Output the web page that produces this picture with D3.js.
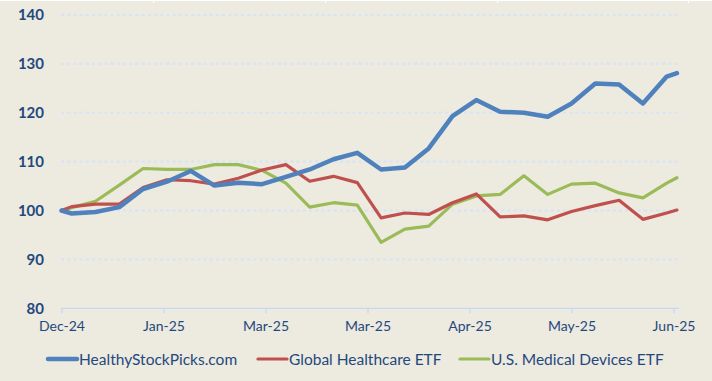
<!DOCTYPE html>
<html>
<head>
<meta charset="utf-8">
<script src="https://cdn.jsdelivr.net/npm/d3@7"></script>
<style>
  html, body { margin: 0; padding: 0; background: #edeae0; }
  svg { display: block; font-family: Lato, "Open Sans", sans-serif; }
</style>
</head>
<body>
<div class="container"></div>
<script>
// weekly closes, rebased to 100
const dates = ["2024-12-31","2025-01-03","2025-01-10","2025-01-17","2025-01-24","2025-01-31",
  "2025-02-07","2025-02-14","2025-02-21","2025-02-28","2025-03-07","2025-03-14","2025-03-21",
  "2025-03-28","2025-04-04","2025-04-11","2025-04-18","2025-04-25","2025-05-02","2025-05-09",
  "2025-05-16","2025-05-23","2025-05-30","2025-06-06","2025-06-13","2025-06-20","2025-06-27","2025-06-30"];
const healthy = [100, 99.4, 99.7, 100.7, 104.4, 105.9, 108.1, 105.1, 105.7, 105.4, 106.9, 108.4, 110.5,
  111.8, 108.4, 108.8, 112.7, 119.3, 122.6, 120.2, 120.0, 119.2, 121.9, 126.0, 125.8, 121.9, 127.4, 128.1];
const globalEtf = [100, 100.8, 101.3, 101.3, 104.7, 106.3, 106.1, 105.4, 106.6, 108.3, 109.4, 106.0, 107.0,
  105.7, 98.5, 99.5, 99.2, 101.6, 103.4, 98.7, 98.9, 98.1, 99.8, 101.0, 102.1, 98.2, 99.5, 100.1];
const devicesEtf = [100, 100.6, 101.9, 105.2, 108.6, 108.4, 108.4, 109.4, 109.4, 108.2, 105.6, 100.7, 101.6,
  101.1, 93.5, 96.2, 96.8, 101.3, 103.0, 103.3, 107.1, 103.3, 105.4, 105.6, 103.6, 102.6, 105.6, 106.7];
const seriesNames = ["HealthyStockPicks.com", "Global Healthcare ETF", "U.S. Medical Devices ETF"];
const yTicks = [80, 90, 100, 110, 120, 130, 140];
const xTickDays = [0, 30, 60, 90, 120, 150, 180]; // excel date axis, major unit 30 days

const width = 712, height = 381;
const colors = ["#4f81bd", "#c0504d", "#9bbb59"];
const widths = [4.5, 3.2, 3.2];
const textColor = "#1f497d";

const parse = d3.timeParse("%Y-%m-%d");
const xDates = dates.map(parse);
const start = xDates[0];

const svg = d3.select('.container').append('svg').attr('width', width).attr('height', height);
svg.append('rect').attr('width', width).attr('height', height).attr('fill', '#edeae0');
svg.append('line').attr('x1', 0).attr('x2', width).attr('y1', 0.5).attr('y2', 0.5)
    .attr('stroke', '#ffffff').attr('stroke-width', 1);
[153, 325, 497, 688].forEach(x => {
    svg.append('line').attr('x1', x + 0.5).attr('x2', x + 0.5).attr('y1', 0).attr('y2', 3)
        .attr('stroke', '#ffffff').attr('stroke-width', 1);
});

const x = d3.scaleTime().domain([start, xDates[xDates.length - 1]]).range([61.5, 676.9]);
const y = d3.scaleLinear().domain([80, 140]).range([308.3, 15]);

// gridlines
svg.append('g').selectAll('line').data(yTicks.filter(d => d > 80)).enter().append('line')
    .attr('x1', 61).attr('x2', 679)
    .attr('y1', d => y(d)).attr('y2', d => y(d))
    .attr('stroke', '#d6e4f5').attr('stroke-width', 2.2).attr('stroke-dasharray', '3,3.2');

// y labels
svg.append('g').selectAll('text').data(yTicks).enter().append('text')
    .attr('x', 44).attr('y', d => y(d)).attr('dy', '0.36em')
    .attr('text-anchor', 'end').attr('font-size', 15).attr('font-weight', 'bold')
    .attr('fill', textColor).text(d => d);

// x axis
const tickDates = xTickDays.map(d => d3.timeDay.offset(start, d));
const xAxis = d3.axisBottom(x).tickValues(tickDates).tickSize(5).tickPadding(8)
    .tickFormat(d3.timeFormat("%b-%y"));
const gx = svg.append('g').attr('transform', `translate(0,${y(80)})`).call(xAxis);
gx.select('.domain').attr('d', `M61,0H679`).attr('stroke', '#c6d9f1').attr('stroke-width', 1.3);
gx.selectAll('.tick line').attr('stroke', '#c6d9f1').attr('stroke-width', 1.3);
gx.selectAll('.tick text').attr('font-size', 14).attr('fill', textColor)
    .attr('font-family', 'Lato, "Open Sans", sans-serif');

// lines
const allSeries = [healthy, globalEtf, devicesEtf];
const line = d3.line().x((d, i) => x(xDates[i])).y(d => y(d));
const order = [2, 1, 0];
order.forEach(k => {
    svg.append('path').datum(allSeries[k]).attr('d', line)
        .attr('fill', 'none').attr('stroke', colors[k]).attr('stroke-width', widths[k])
        .attr('stroke-linejoin', 'round').attr('stroke-linecap', 'round');
});

// legend
const legendX = [48, 258, 460];
const lg = svg.append('g').attr('class', 'legend');
seriesNames.forEach((name, k) => {
    lg.append('line').attr('x1', legendX[k]).attr('x2', legendX[k] + 29)
        .attr('y1', 359).attr('y2', 359)
        .attr('stroke', colors[k]).attr('stroke-width', widths[k]).attr('stroke-linecap', 'round');
    lg.append('text').attr('x', legendX[k] + 31).attr('y', 359).attr('dy', '0.36em')
        .attr('font-size', 15.5).attr('fill', textColor).text(name);
});
</script>
</body>
</html>
